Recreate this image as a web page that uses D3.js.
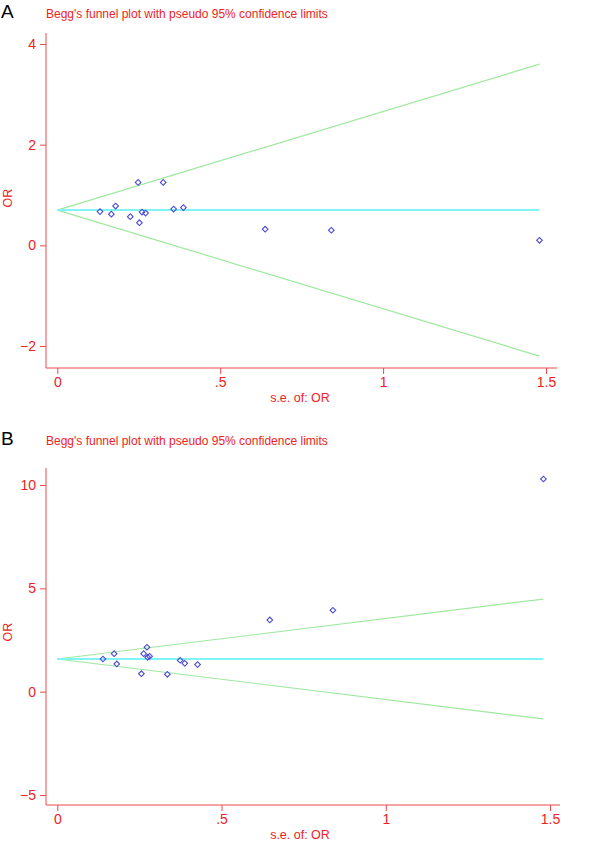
<!DOCTYPE html>
<html>
<head>
<meta charset="utf-8">
<script src="https://cdn.jsdelivr.net/npm/d3@7"></script>
<style>
  body { margin: 0; background: #fff; }
  text { font-family: Arial, "Liberation Sans", sans-serif; }
</style>
</head>
<body>
<div id="chart"></div>
<script>
// panel A: OR vs s.e. of OR
var seA = [0.131, 0.166, 0.179, 0.224, 0.248, 0.252, 0.260, 0.271, 0.325, 0.357, 0.387, 0.638, 0.841, 1.48];
var orA = [0.67, 0.62, 0.78, 0.57, 1.25, 0.45, 0.66, 0.64, 1.25, 0.72, 0.75, 0.32, 0.30, 0.10];
var thetaA = 0.70;
// panel B
var seB = [0.139, 0.173, 0.181, 0.256, 0.263, 0.273, 0.275, 0.281, 0.335, 0.374, 0.388, 0.427, 0.647, 0.839, 1.48];
var orB = [1.58, 1.84, 1.34, 0.87, 1.84, 2.15, 1.66, 1.71, 0.84, 1.52, 1.37, 1.31, 3.47, 3.94, 10.29];
var thetaB = 1.58;
var seMax = 1.48;

var xTicks = [0, 0.5, 1, 1.5];
var xTickLabels = ["0", ".5", "1", "1.5"];
var yTicksA = [-2, 0, 2, 4];
var yTicksB = [-5, 0, 5, 10];

var title = "Begg's funnel plot with pseudo 95% confidence limits";
var red = "#ee2222";
var axisRed = "#e94b4b";

var svg = d3.select("#chart").append("svg")
  .attr("width", 600)
  .attr("height", 841);

function panel(cfg) {
  var g = svg.append("g");
  var x = d3.scaleLinear().domain([0, 1.5]).range(cfg.xRange);
  var y = d3.scaleLinear().domain(cfg.yDomain).range(cfg.yRange);

  g.append("text").attr("x", 1).attr("y", cfg.top + 18)
    .attr("font-size", 19).attr("fill", "#000").text(cfg.letter);
  g.append("text").attr("x", 46).attr("y", cfg.top + 18)
    .attr("font-size", 12).attr("fill", red).text(title);

  // axis lines (Stata style, not meeting the ticks)
  g.append("line").attr("x1", 46).attr("x2", 46)
    .attr("y1", cfg.plotTop).attr("y2", cfg.plotBottom)
    .attr("stroke", axisRed).attr("stroke-width", 1);
  g.append("line").attr("x1", 46).attr("x2", cfg.plotRight)
    .attr("y1", cfg.plotBottom).attr("y2", cfg.plotBottom)
    .attr("stroke", axisRed).attr("stroke-width", 1);

  var yAxis = g.append("g").attr("transform", "translate(46,0)")
    .call(d3.axisLeft(y).tickValues(cfg.yTicks).tickSize(6).tickPadding(4).tickFormat(d3.format("d")));
  var xAxis = g.append("g").attr("transform", "translate(0," + cfg.plotBottom + ")")
    .call(d3.axisBottom(x).tickValues(xTicks).tickSize(6).tickPadding(3)
      .tickFormat(function(d, i) { return xTickLabels[i]; }));
  [yAxis, xAxis].forEach(function(a) {
    a.select(".domain").remove();
    a.selectAll("line").attr("stroke", axisRed);
    a.selectAll("text").attr("fill", red).attr("font-size", 14)
      .attr("font-family", "Arial, 'Liberation Sans', sans-serif");
  });

  g.append("text").attr("x", 300).attr("y", cfg.plotBottom + 34)
    .attr("text-anchor", "middle").attr("font-size", 12.5).attr("fill", red).text("s.e. of: OR");
  g.append("text")
    .attr("transform", "translate(12," + cfg.yLabelY + ") rotate(-90)")
    .attr("text-anchor", "middle").attr("font-size", 12.5).attr("fill", red).text("OR");

  // pseudo 95% confidence limits
  var seLine = [0, seMax];
  var line = d3.line().x(function(d) { return x(d[0]); }).y(function(d) { return y(d[1]); });
  [1.96, -1.96].forEach(function(z) {
    g.append("path")
      .attr("d", line(seLine.map(function(s) { return [s, cfg.theta + z * s]; })))
      .attr("fill", "none").attr("stroke", "#9ee89e").attr("stroke-width", 1.2);
  });
  g.append("path")
    .attr("d", line(seLine.map(function(s) { return [s, cfg.theta]; })))
    .attr("fill", "none").attr("stroke", "#7ff5f5").attr("stroke-width", 2);

  var sym = d3.symbol().type(d3.symbolSquare).size(16);
  g.selectAll(".pt").data(cfg.se).enter().append("path")
    .attr("class", "pt")
    .attr("d", sym)
    .attr("transform", function(d, i) {
      return "translate(" + x(d) + "," + y(cfg.or[i]) + ") rotate(45)";
    })
    .attr("fill", "none").attr("stroke", "#4b4bd6").attr("stroke-width", 1.1);
}

panel({
  letter: "A", top: 0, se: seA, or: orA, theta: thetaA,
  xRange: [57.3, 546], yDomain: [-2, 4], yRange: [346, 44], yTicks: yTicksA,
  plotTop: 33, plotBottom: 368, plotRight: 557, yLabelY: 198
});
panel({
  letter: "B", top: 427, se: seB, or: orB, theta: thetaB,
  xRange: [57.3, 550], yDomain: [-5, 10], yRange: [795, 485], yTicks: yTicksB,
  plotTop: 468, plotBottom: 805, plotRight: 560, yLabelY: 632
});
</script>
</body>
</html>
